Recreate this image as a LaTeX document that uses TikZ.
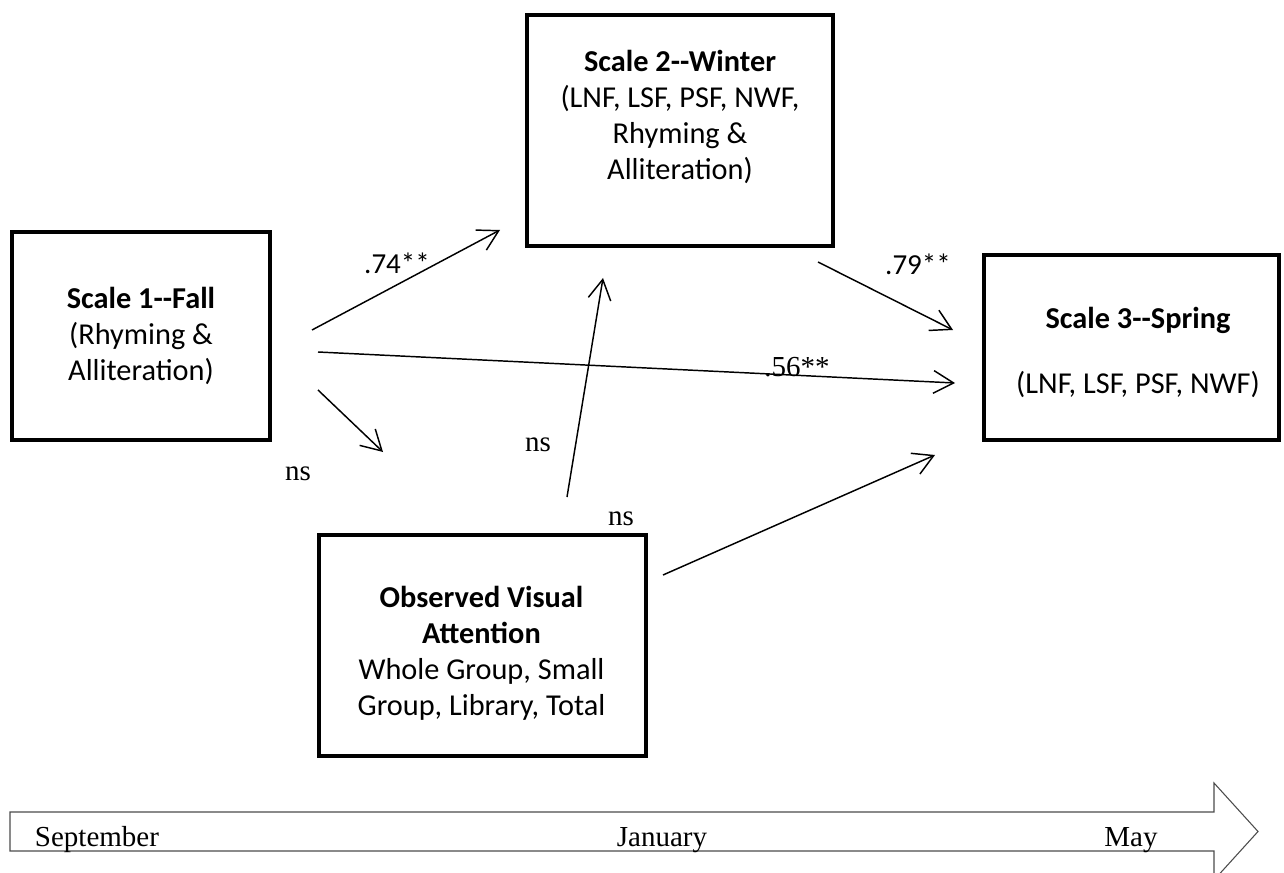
\documentclass[tikz,border=0pt]{standalone}
\usepackage{fontspec}
\setmainfont{Liberation Serif}
\newfontfamily\calfont{Carlito}
\usetikzlibrary{arrows.meta}
\begin{document}
\begin{tikzpicture}[x=0.75pt,y=-0.75pt,
  every node/.style={font=\fontsize{21.75}{23.25}\selectfont},
  boxnode/.style={draw,line width=3pt,inner sep=0pt},
  boxtext/.style={align=center,inner sep=0pt,font=\calfont\fontsize{22.75}{27}\selectfont},
  conn/.style={line width=1.1pt,-{Straight Barb[length=15pt,width=17pt,line width=1.1pt]}},
  callab/.style={inner sep=0pt,font=\calfont\fontsize{21.75}{23.25}\selectfont},
  serlab/.style={inner sep=0pt,font=\fontsize{21.75}{23.25}\selectfont},
  timeline/.style={line width=0.8pt,draw=black!70}]
\clip (0,0) rectangle (1284,873);
\fill[white] (0,0) rectangle (1284,873);

% boxes
\node[boxnode,minimum width=193.5pt,minimum height=156pt] (b1) at (141,336) {};
\node[boxnode,minimum width=229.5pt,minimum height=173.25pt] (b2) at (680,130.5) {};
\node[boxnode,minimum width=221.25pt,minimum height=138.75pt] (b3) at (1131.5,347.5) {};
\node[boxnode,minimum width=245.25pt,minimum height=165.75pt] (b4) at (482.5,645.5) {};

% box texts
\node[boxtext] (t1) at (141,335.5) {\textbf{Scale 1--Fall}\\(Rhyming \&\\Alliteration)};
\node[boxtext] (t2) at (680,117) {\textbf{Scale 2--Winter}\\(LNF, LSF, PSF, NWF,\\Rhyming \&\\Alliteration)};
\node[boxtext] (t3) at (1138,352.5) {\textbf{Scale 3--Spring}\\[21.75pt](LNF, LSF, PSF, NWF)};
\node[boxtext] (t4) at (481.5,653.5) {\textbf{Observed Visual}\\\textbf{Attention}\\Whole Group, Small\\Group, Library, Total};

% connector endpoints
\coordinate (a1s) at (312,330); \coordinate (a1e) at (500,230);
\coordinate (a2s) at (818,262); \coordinate (a2e) at (953,330);
\coordinate (a3s) at (318,352); \coordinate (a3e) at (955,383);
\coordinate (a4s) at (318,390); \coordinate (a4e) at (383,452);
\coordinate (a5s) at (567,497); \coordinate (a5e) at (603,278);
\coordinate (a6s) at (663,575); \coordinate (a6e) at (935,455);

\draw[conn] (a1s) -- (a1e);
\draw[conn] (a2s) -- (a2e);
\draw[conn] (a3s) -- (a3e);
\draw[conn] (a4s) -- (a4e);
\draw[conn] (a5s) -- (a5e);
\draw[conn] (a6s) -- (a6e);

% labels
\node[callab] (l1) at (397,263) {.74**};
\node[callab] (l2) at (918,264) {.79**};
\node[serlab] (l3) at (797,367) {.56**};
\node[serlab] (l4) at (298,474) {ns};
\node[serlab] (l5) at (538,445) {ns};
\node[serlab] (l6) at (621,519) {ns};

% timeline
\draw[timeline] (10,812) -- (1214,812) -- (1214,783) -- (1258,831.5) -- (1214,880) -- (1214,851) -- (10,851) -- cycle;
\node[serlab,anchor=base] (m1) at (97,846) {September};
\node[serlab,anchor=base] (m2) at (662,846) {January};
\node[serlab,anchor=base] (m3) at (1131,846) {May};
\end{tikzpicture}
\end{document}
